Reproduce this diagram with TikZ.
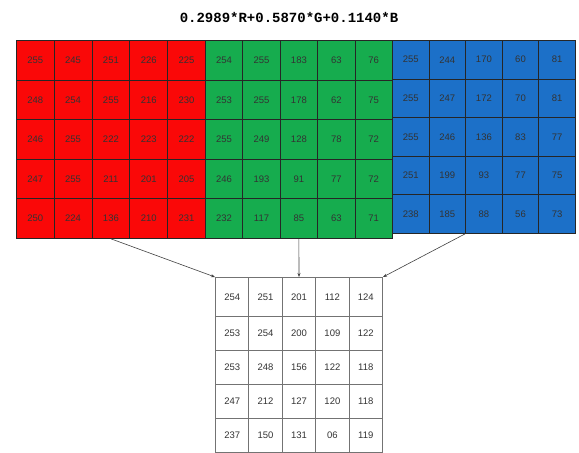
\documentclass[tikz,border=0pt]{standalone}
\usepackage{fontspec}
\setmainfont{Liberation Sans}
\newfontfamily\titlefont{Liberation Mono}
\usetikzlibrary{positioning,arrows.meta}
\definecolor{cellred}{RGB}{250, 8, 8}
\definecolor{cellgreen}{RGB}{22, 172, 78}
\definecolor{cellblue}{RGB}{28, 112, 200}

\begin{document}
\begin{tikzpicture}[x=1pt, y=-1pt,
    cell/.style={rectangle, draw=black!85, line width=0.8pt, anchor=north west, inner sep=0pt, font=\fontsize{9.5}{10}\selectfont, text=black!80},
    redcell/.style={cell, fill=cellred, minimum width=37.8pt, minimum height=39.6pt},
    greencell/.style={cell, fill=cellgreen, minimum width=37.4pt, minimum height=39.6pt},
    bluecell/.style={cell, fill=cellblue, minimum width=36.6pt, minimum height=38.6pt},
    graycell/.style={rectangle, draw=black!55, line width=1pt, anchor=north west, inner sep=0pt, fill=white, minimum width=33.4pt, font=\fontsize{9.5}{10}\selectfont, text=black!80},
    arrow/.style={-{Stealth[length=4pt,width=3pt]}, black!75, line width=0.6pt}
]
\useasboundingbox (0,0) rectangle (579,453);
% Formula
\node[font=\titlefont\bfseries\fontsize{14}{15}\selectfont] (formula) at (289,17) {0.2989*R+0.5870*G+0.1140*B};

% Red channel
\foreach \r/\vals in {1/{255,245,251,226,225}, 2/{248,254,255,216,230}, 3/{246,255,222,223,222},
                      4/{247,255,211,201,205}, 5/{250,224,136,210,231}}
  \foreach \v [count=\c] in \vals
    \node[redcell] (r-\r-\c) at ({16+(\c-1)*37.8},{40+(\r-1)*39.6}) {\v};
% Green channel
\foreach \r/\vals in {1/{254,255,183,63,76}, 2/{253,255,178,62,75}, 3/{255,249,128,78,72},
                      4/{246,193,91,77,72}, 5/{232,117,85,63,71}}
  \foreach \v [count=\c] in \vals
    \node[greencell] (gn-\r-\c) at ({205+(\c-1)*37.4},{40+(\r-1)*39.6}) {\v};
% Blue channel
\foreach \r/\vals in {1/{255,244,170,60,81}, 2/{255,247,172,70,81}, 3/{255,246,136,83,77},
                      4/{251,199,93,77,75}, 5/{238,185,88,56,73}}
  \foreach \v [count=\c] in \vals
    \node[bluecell] (b-\r-\c) at ({392+(\c-1)*36.6},{40+(\r-1)*38.6}) {\v};

% Grayscale result
\foreach \r/\y/\h/\vals in {1/277/39/{254,251,201,112,124}, 2/316/34/{253,254,200,109,122},
                            3/350/34/{253,248,156,122,118}, 4/384/34/{247,212,127,120,118},
                            5/418/34/{237,150,131,06,119}}
  \foreach \v [count=\c] in \vals
    \node[graycell, minimum height=\h pt] (g-\r-\c) at ({215+(\c-1)*33.4},\y) {\v};

\draw[arrow] (r-5-3.south)      -- (g-1-1.north west);
\draw[arrow] (gn-5-3.south)     -- (g-1-3.north);
\draw[arrow] (b-5-3.south west) -- (g-1-5.north east);
\end{tikzpicture}
\end{document}
